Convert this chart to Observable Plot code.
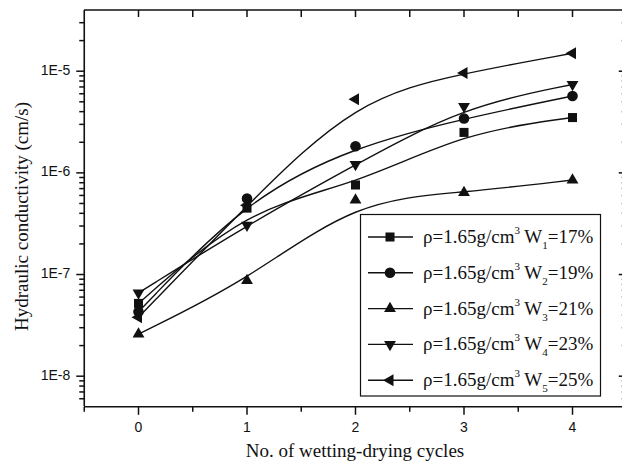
<!DOCTYPE html>
<html><head><meta charset="utf-8">
<script src="https://cdn.jsdelivr.net/npm/d3@7"></script>
<script src="https://cdn.jsdelivr.net/npm/@observablehq/plot@0.6"></script>
<style>html,body{margin:0;padding:0;background:#fff;overflow:hidden}</style>
</head><body><div id="chart"></div>
<script>
// ---- data ----
const cycles = [0, 1, 2, 3, 4];
const seriesSub = ["1", "2", "3", "4", "5"];
const seriesPct = ["17%", "19%", "21%", "23%", "25%"];
const w1 = [5.2e-8, 4.5e-7, 7.6e-7, 2.5e-6, 3.5e-6];
const w2 = [4.3e-8, 5.6e-7, 1.83e-6, 3.43e-6, 5.7e-6];
const w3 = [2.6e-8, 8.7e-8, 5.4e-7, 6.4e-7, 8.5e-7];
const w4 = [6.6e-8, 3.06e-7, 1.21e-6, 4.5e-6, 7.4e-6];
const w5 = [3.8e-8, 4.8e-7, 5.3e-6, 9.6e-6, 1.5e-5];
const xMajorTicks = [0, 1, 2, 3, 4];
const xMinorTicks = [-0.5, 0.5, 1.5, 2.5, 3.5, 4.5];
const yMajorTicks = [1e-8, 1e-7, 1e-6, 1e-5];
const yTickLabels = ["1E-8", "1E-7", "1E-6", "1E-5"];
const yMinorTicks = [6e-9, 7e-9, 8e-9, 9e-9,
  2e-8, 3e-8, 4e-8, 5e-8, 6e-8, 7e-8, 8e-8, 9e-8,
  2e-7, 3e-7, 4e-7, 5e-7, 6e-7, 7e-7, 8e-7, 9e-7,
  2e-6, 3e-6, 4e-6, 5e-6, 6e-6, 7e-6, 8e-6, 9e-6,
  2e-5, 3e-5];
const xDomain = [-0.5, 4.5];
const yDomain = [5e-9, 4e-5];
const xTitle = "No. of wetting-drying cycles";
const yTitle = "Hydraulic conductivity (cm/s)";

// ---- symbols ----
const triDown = {draw(ctx, size) {
  const y = -Math.sqrt(size / (Math.sqrt(3) * 3)), s3 = Math.sqrt(3);
  ctx.moveTo(0, -2 * y); ctx.lineTo(-s3 * y, y); ctx.lineTo(s3 * y, y); ctx.closePath();
}};
const triLeft = {draw(ctx, size) {
  const y = -Math.sqrt(size / (Math.sqrt(3) * 3)), s3 = Math.sqrt(3);
  ctx.moveTo(2 * y, 0); ctx.lineTo(-y, -s3 * y); ctx.lineTo(-y, s3 * y); ctx.closePath();
}};
const tickSym = (dx, dy) => ({draw(ctx, size) {
  const r = Math.sqrt(size / Math.PI);
  ctx.moveTo(0, 0); ctx.lineTo(dx * r, dy * r);
}});

const seriesValues = [w1, w2, w3, w4, w5];
const symbols = [d3.symbolSquare, "circle", d3.symbolTriangle, triDown, triLeft];
const radii = [5.1, 5.3, 4.4, 4.4, 4.5];

const rows = seriesValues.flatMap((vals, s) => vals.map((v, i) => ({s, cycle: cycles[i], k: v})));

const black = "#111";
const marks = [];
// curves
marks.push(Plot.line(rows, {x: "cycle", y: "k", z: "s", curve: "basis", stroke: black, strokeWidth: 1.4}));
// points
seriesValues.forEach((vals, s) => {
  const sd = rows.filter(d => d.s === s);
  marks.push(Plot.dot(sd, {x: "cycle", y: "k", symbol: symbols[s], r: radii[s], fill: black, stroke: "none"}));
});
// frame
marks.push(Plot.ruleX(xDomain, {stroke: black, strokeWidth: 1.6}));
marks.push(Plot.ruleY(yDomain, {stroke: black, strokeWidth: 1.6}));
// ticks
const tk = (data, x, y, sym, r) => Plot.dot(data, {x, y, symbol: sym, r, stroke: black, fill: "none", strokeWidth: 1.5});
marks.push(tk(yMajorTicks, () => xDomain[0], d => d, tickSym(-1, 0), 8));
marks.push(tk(yMinorTicks, () => xDomain[0], d => d, tickSym(-1, 0), 5));
marks.push(tk(yMajorTicks, () => xDomain[1], d => d, tickSym(-1, 0), 8));
marks.push(tk(yMinorTicks, () => xDomain[1], d => d, tickSym(-1, 0), 5));
marks.push(tk(xMajorTicks, d => d, () => yDomain[0], tickSym(0, 1), 8));
marks.push(tk(xMinorTicks, d => d, () => yDomain[0], tickSym(0, 1), 5));
marks.push(tk(xMajorTicks, d => d, () => yDomain[1], tickSym(0, 1), 7));
marks.push(tk(xMinorTicks.slice(1, -1), d => d, () => yDomain[1], tickSym(0, 1), 7));
// tick labels
const yLab = yMajorTicks.map((v, i) => ({v, label: yTickLabels[i]}));
marks.push(Plot.text(yLab, {x: () => xDomain[0], y: "v", text: "label", dx: -14, dy: -1, textAnchor: "end",
  fontFamily: "Liberation Sans", fontSize: 14, fill: black}));
marks.push(Plot.text(xMajorTicks, {x: d => d, y: () => yDomain[0], text: d => String(d), dy: 21,
  fontFamily: "Liberation Sans", fontSize: 14, fill: black}));

const chart = Plot.plot({
  width: 622, height: 465,
  marginLeft: 84, marginRight: 0, marginTop: 10, marginBottom: 59,
  x: {domain: xDomain, range: [83.75, 626.25], axis: null},
  y: {type: "log", domain: yDomain, range: [406.3, 9.5], axis: null},
  marks
});
document.getElementById("chart").append(chart);

// ---- titles & legend ----
const svgEl = chart.tagName.toLowerCase() === "svg" ? chart : chart.querySelector("svg");
const svg = d3.select(svgEl);
const serif = "Liberation Serif, Times New Roman, serif";
svg.append("text").attr("x", 355).attr("y", 457).attr("text-anchor", "middle")
  .attr("font-family", serif).attr("font-size", 19).attr("fill", black).text(xTitle);
svg.append("text").attr("transform", "translate(28,216.5) rotate(-90)").attr("text-anchor", "middle")
  .attr("font-family", serif).attr("font-size", 19).attr("fill", black).text(yTitle);

const lg = svg.append("g");
lg.append("rect").attr("x", 360.5).attr("y", 214.5).attr("width", 240).attr("height", 181.5)
  .attr("fill", "#fff").attr("stroke", black).attr("stroke-width", 1.2);
seriesSub.forEach((sub, i) => {
  const cy = 237 + i * 35.8;
  lg.append("line").attr("x1", 368).attr("x2", 413).attr("y1", cy).attr("y2", cy)
    .attr("stroke", black).attr("stroke-width", 1.4);
  const sym = symbols[i] === "circle" ? d3.symbolCircle : symbols[i];
  lg.append("path").attr("transform", `translate(390,${cy})`)
    .attr("d", d3.symbol(sym, radii[i] * radii[i] * Math.PI)()).attr("fill", black);
  const t = lg.append("text").attr("x", 423).attr("y", cy + 6).attr("text-anchor", "start")
    .attr("font-family", serif).attr("font-size", 19).attr("fill", black);
  t.append("tspan").text("ρ=1.65g/cm");
  t.append("tspan").attr("dy", -9).attr("font-size", 11).text("3");
  t.append("tspan").attr("dy", 9).text(" W");
  t.append("tspan").attr("dy", 6).attr("font-size", 11).text(sub);
  t.append("tspan").attr("dy", -6).text("=" + seriesPct[i]);
});
</script>
</body></html>
